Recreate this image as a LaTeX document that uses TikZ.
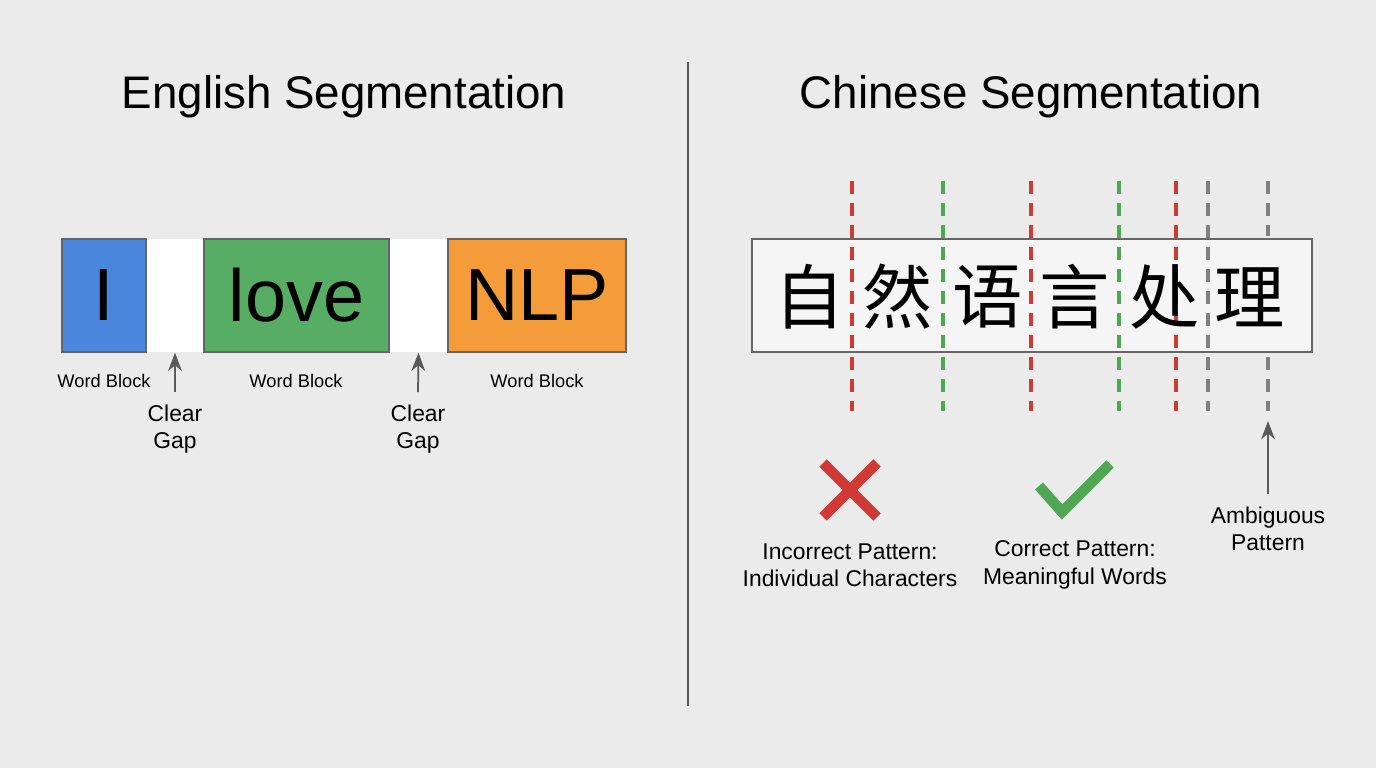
\documentclass[tikz,border=0pt]{standalone}
\usepackage{fontspec}
\setmainfont{Liberation Sans}
\newfontfamily\cjk{Noto Sans CJK SC}
\usetikzlibrary{arrows.meta,positioning}
\definecolor{bgcol}{HTML}{EBEBEB}
\definecolor{wblue}{HTML}{4A86DB}
\definecolor{wgreen}{HTML}{58AD64}
\definecolor{worange}{HTML}{F59C3A}
\definecolor{cutred}{HTML}{D03A36}
\definecolor{cutgreen}{HTML}{4FA653}
\definecolor{cutgray}{HTML}{808080}
\tikzset{
  word/.style={draw=gray!80!black, line width=0.5pt, minimum height=11.3mm,
    inner sep=0pt, font=\fontsize{21}{24}\selectfont},
  gap/.style={fill=white, minimum height=11.3mm, inner sep=0pt},
  small/.style={font=\fontsize{5.2}{6.5}\selectfont},
  note/.style={font=\fontsize{6.5}{7.8}\selectfont, align=center},
  title/.style={font=\fontsize{13}{15}\selectfont},
  hanzi/.style={font=\cjk\fontsize{20}{22}\selectfont, inner sep=0pt},
  cut/.style={dash pattern=on 1.3mm off 0.9mm, line width=0.9pt},
  pointer/.style={-Stealth, draw=gray!70!black, line width=0.5pt},
  tick mark/.style={line width=3pt}
}
\begin{document}
\begin{tikzpicture}[x=0.1mm,y=-0.1mm]
  \fill[bgcol](0,0)rectangle(1376,768);
  \useasboundingbox(0,0)rectangle(1376,768);
  \coordinate(Top) at (688,62);
  \coordinate(Bot) at (688,706);
  \draw[gray!70!black, line width=0.6pt](Top)--(Bot);
  % English side
  \node[title](ET) at (344,97){English Segmentation};
  \node[gap, minimum width=5.8mm](G1) at (175,295.5){};
  \node[gap, minimum width=5.9mm](G2) at (418.5,295.5){};
  \node[word, fill=wblue, minimum width=8.4mm](I) at (104,295.5){I};
  \node[word, fill=wgreen, minimum width=18.5mm](L) at (296.5,295.5){love};
  \node[word, fill=worange, minimum width=17.8mm](N) at (537,295.5){NLP};
  \node[small](WI) at (104,381){Word Block};
  \node[small](WL) at (296,381){Word Block};
  \node[small](WN) at (537,381){Word Block};
  \node[note](C1) at (175,429){Clear\\Gap};
  \node[note](C2) at (418,429){Clear\\Gap};
  \draw[pointer](C1.north)--(G1.south);
  \draw[pointer](C2.north)--(G2.south);
  % Chinese side
  \node[title](CT) at (1031,97){Chinese Segmentation};
  \node[draw=gray!80!black, fill=gray!8, line width=0.6pt, minimum width=56mm,
    minimum height=11.3mm](Box) at (1032,295.5){};
  \foreach \x/\col in {852/cutred,943/cutgreen,1031/cutred,1119/cutgreen,
      1176/cutred,1208/cutgray}
    \draw[cut, \col](\x,181)--(\x,411);
  \coordinate(A1) at (1268,181);
  \coordinate(A2) at (1268,236);
  \coordinate(A3) at (1268,357);
  \coordinate(A4) at (1268,411);
  \draw[cut, cutgray](A1)--(A2);
  \draw[cut, cutgray](A3)--(A4);
  \foreach \x/\c [count=\i] in {810/自,898/然,988/语,1075/言,1165/处,1250/理}
    \node[hanzi](H\i) at (\x,297){\c};
  % marks
  \draw[cutred, tick mark](823,463)--(877,517);
  \draw[cutred, tick mark](877,463)--(823,517);
  \draw[cutgreen, tick mark](1039,486)--(1062,512)--(1110,464);
  \node[note](P1) at (850,565){Incorrect Pattern:\\Individual Characters};
  \node[note](P2) at (1075,565){Correct Pattern:\\Meaningful Words};
  \node[note](P3) at (1268,529){Ambiguous\\Pattern};
  \coordinate(A5) at (1268,421);
  \draw[pointer](P3.north)--(A5);
\end{tikzpicture}
\end{document}
